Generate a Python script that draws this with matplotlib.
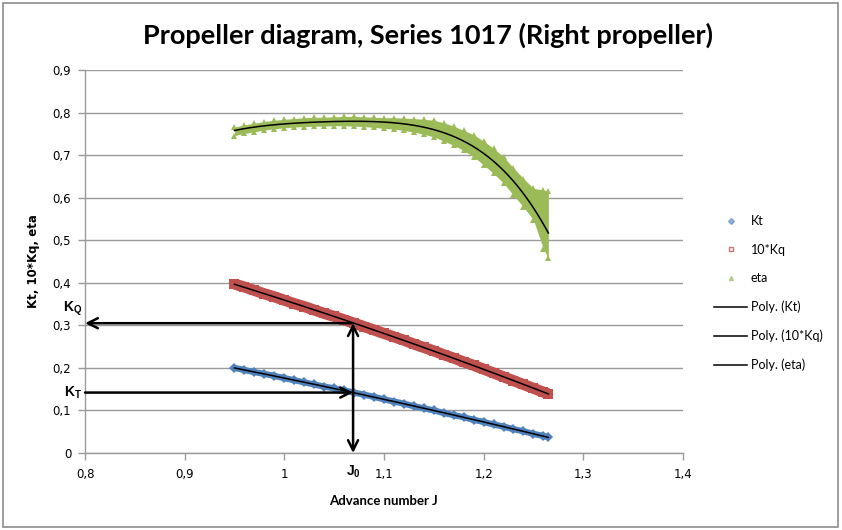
import numpy as np
import matplotlib.pyplot as plt
from matplotlib.lines import Line2D

# Advance number grid of the measured points
J = [0.95, 0.96, 0.97, 0.98, 0.99, 1.00, 1.01, 1.02, 1.03, 1.04, 1.05,
     1.06, 1.07, 1.08, 1.09, 1.10, 1.11, 1.12, 1.13, 1.14, 1.15, 1.16,
     1.17, 1.18, 1.19, 1.20, 1.21, 1.22, 1.23, 1.24, 1.25, 1.26, 1.265]

Kt = [0.200, 0.195, 0.190, 0.186, 0.181, 0.176, 0.171, 0.166, 0.161, 0.156, 0.152,
      0.147, 0.142, 0.137, 0.132, 0.126, 0.121, 0.116, 0.110, 0.105, 0.100, 0.094,
      0.089, 0.084, 0.078, 0.073, 0.067, 0.062, 0.056, 0.051, 0.045, 0.040, 0.037]

Kq10 = [0.397, 0.390, 0.382, 0.374, 0.367, 0.359, 0.351, 0.344, 0.336, 0.328, 0.321,
        0.313, 0.305, 0.297, 0.289, 0.281, 0.273, 0.265, 0.256, 0.248, 0.240, 0.231,
        0.223, 0.214, 0.206, 0.197, 0.188, 0.179, 0.170, 0.161, 0.152, 0.143, 0.139]

eta = [0.757, 0.762, 0.766, 0.769, 0.772, 0.774, 0.776, 0.777, 0.778, 0.778, 0.779,
       0.779, 0.779, 0.778, 0.777, 0.776, 0.775, 0.773, 0.770, 0.767, 0.762, 0.754,
       0.745, 0.734, 0.721, 0.704, 0.686, 0.664, 0.637, 0.606, 0.572, 0.538, 0.522]
eta_hi = [0.766, 0.771, 0.775, 0.779, 0.782, 0.784, 0.786, 0.788, 0.789, 0.789, 0.790,
          0.791, 0.791, 0.790, 0.789, 0.788, 0.788, 0.787, 0.786, 0.784, 0.782, 0.776,
          0.768, 0.758, 0.748, 0.733, 0.716, 0.696, 0.670, 0.645, 0.622, 0.618, 0.615]
eta_lo = [0.746, 0.751, 0.755, 0.759, 0.762, 0.764, 0.766, 0.767, 0.768, 0.768, 0.769,
          0.769, 0.768, 0.767, 0.765, 0.763, 0.761, 0.758, 0.754, 0.749, 0.743, 0.733,
          0.723, 0.711, 0.696, 0.677, 0.657, 0.634, 0.606, 0.578, 0.548, 0.480, 0.458]

# operating point
J0 = 1.069
Kq0 = 0.305
Kt0 = 0.142

C_BLUE = "#4F81BD"
C_RED = "#C0504D"
C_GREEN = "#9BBB59"
GRID = "#9a9a9a"

plt.rcParams["mathtext.fontset"] = "custom"
plt.rcParams["mathtext.bf"] = "Liberation Sans:bold"
plt.rcParams["mathtext.rm"] = "Liberation Sans"

fig = plt.figure(figsize=(8.42, 5.30), dpi=100)
ax = fig.add_axes([0.101, 0.1453, 0.710, 0.7226])

J_arr = np.array(J)

# measured points, drawn as dense bands
ax.fill_between(J, eta_lo, eta_hi, color=C_GREEN, lw=0, zorder=2)
for ys in (eta_hi, eta_lo):
    ax.plot(J, ys, ls="none", marker="^", ms=5, color=C_GREEN, mew=0, zorder=2)
ax.plot(J, Kq10, color=C_RED, lw=8, solid_capstyle="butt", zorder=2)
ax.plot(J, Kq10, ls="none", marker="s", ms=7.5, color=C_RED, mew=0, zorder=2)
ax.plot(J, Kt, color=C_BLUE, lw=4.5, solid_capstyle="butt", zorder=2)
ax.plot(J, Kt, ls="none", marker="D", ms=5, color=C_BLUE, mew=0, zorder=2)

# polynomial trendlines
Jf = np.linspace(J_arr.min(), J_arr.max(), 300)
for ys, deg in ((Kt, 2), (Kq10, 2), (eta, 4)):
    p = np.polyfit(J_arr, ys, deg)
    ax.plot(Jf, np.polyval(p, Jf), color="black", lw=1.1, zorder=3)

# operating point arrows
arrow = dict(arrowstyle="->", lw=1.8, color="black", shrinkA=0, shrinkB=0,
             mutation_scale=18)
ax.annotate("", xy=(0.8, Kq0), xytext=(J0, Kq0), arrowprops=arrow,
            annotation_clip=False, zorder=4)
ax.annotate("", xy=(J0, Kt0), xytext=(0.8, Kt0), arrowprops=arrow,
            annotation_clip=False, zorder=4)
ax.annotate("", xy=(J0, 0.0), xytext=(J0, Kq0),
            arrowprops=dict(arrow, arrowstyle="<->"),
            annotation_clip=False, zorder=4)

ax.text(0.797, Kq0 + 0.012, r"$\mathbf{K_Q}$", ha="right", va="bottom",
        fontsize=10, clip_on=False)
ax.text(0.797, Kt0, r"$\mathbf{K_T}$", ha="right", va="center",
        fontsize=10, clip_on=False)
ax.text(J0, -0.025, r"$\mathbf{J_0}$", ha="center", va="top",
        fontsize=10, clip_on=False)

ax.set_xlim(0.8, 1.4)
ax.set_ylim(0, 0.9)
ax.set_xticks(np.arange(0.8, 1.41, 0.1))
ax.set_yticks(np.arange(0, 0.91, 0.1))
ax.set_xticklabels(["0,8", "0,9", "1", "1,1", "1,2", "1,3", "1,4"])
ax.set_yticklabels(["0", "0,1", "0,2", "0,3", "0,4", "0,5", "0,6", "0,7", "0,8", "0,9"])
ax.tick_params(axis="both", colors=GRID, labelcolor="black", labelsize=8.5,
               length=5, width=1, direction="out")
ax.tick_params(axis="y", pad=5)
ax.tick_params(axis="x", pad=6)
ax.grid(axis="y", color=GRID, lw=1)
ax.set_axisbelow(True)
for side in ("top", "right"):
    ax.spines[side].set_visible(False)
for side in ("left", "bottom"):
    ax.spines[side].set_color(GRID)
    ax.spines[side].set_linewidth(1)

ax.set_xlabel("Advance number J", fontsize=9.5, fontweight="bold",
              family="Lato", labelpad=10)
ax.set_ylabel("Kt, 10*Kq, eta", fontsize=8.5, fontweight="bold", labelpad=9)

fig.suptitle("Propeller diagram, Series 1017 (Right propeller)", x=0.508, y=0.958,
             fontsize=19.5, fontweight="bold", family="Lato")

handles = [
    Line2D([], [], ls="none", marker="D", ms=3, color=C_BLUE, alpha=0.6),
    Line2D([], [], ls="none", marker="s", ms=3, mfc="none", mec=C_RED, alpha=0.8),
    Line2D([], [], ls="none", marker="^", ms=3, color=C_GREEN, alpha=0.6),
    Line2D([], [], color="black", lw=1.1),
    Line2D([], [], color="black", lw=1.1),
    Line2D([], [], color="black", lw=1.1),
]
labels = ["Kt", "10*Kq", "eta", "Poly. (Kt)", "Poly. (10*Kq)", "Poly. (eta)"]
fig.legend(handles, labels, loc="upper left", bbox_to_anchor=(0.835, 0.615),
           frameon=False, handlelength=2.6, handletextpad=0.3,
           labelspacing=1.32, prop={"family": "Lato", "size": 9})

# outer chart frame
fig.patches.append(plt.Rectangle((0.004, 0.006), 0.991, 0.988, transform=fig.transFigure,
                                 fill=False, ec="#8c8c8c", lw=1.2))

fig.savefig("out.png", dpi=100)
